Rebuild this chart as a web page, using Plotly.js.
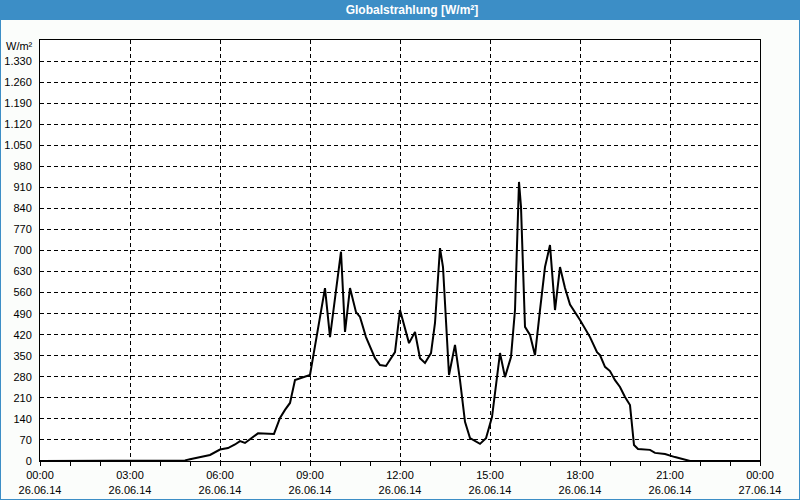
<!DOCTYPE html>
<html>
<head>
<meta charset="utf-8">
<script src="https://cdn.plot.ly/plotly-3.0.1.min.js"></script>
<style>
html,body{margin:0;padding:0;background:#fbfdfb;}
#chart{width:800px;height:500px;}
</style>
</head>
<body>
<div id="chart"></div>
<script>
// Time of day (26.06.14) and global radiation in W/m²
const times = [
  "2014-06-26 00:00","2014-06-26 04:50","2014-06-26 05:00","2014-06-26 05:20","2014-06-26 05:40",
  "2014-06-26 06:00","2014-06-26 06:16","2014-06-26 06:30","2014-06-26 06:40","2014-06-26 06:50",
  "2014-06-26 07:04","2014-06-26 07:16","2014-06-26 07:48","2014-06-26 08:00","2014-06-26 08:10",
  "2014-06-26 08:20","2014-06-26 08:30","2014-06-26 08:46","2014-06-26 09:00","2014-06-26 09:30",
  "2014-06-26 09:40","2014-06-26 10:02","2014-06-26 10:10","2014-06-26 10:20","2014-06-26 10:32",
  "2014-06-26 10:40","2014-06-26 10:52","2014-06-26 11:10","2014-06-26 11:20","2014-06-26 11:32",
  "2014-06-26 11:50","2014-06-26 12:00","2014-06-26 12:18","2014-06-26 12:30","2014-06-26 12:40",
  "2014-06-26 12:50","2014-06-26 13:02","2014-06-26 13:10","2014-06-26 13:20","2014-06-26 13:26",
  "2014-06-26 13:38","2014-06-26 13:50","2014-06-26 14:00","2014-06-26 14:10","2014-06-26 14:20",
  "2014-06-26 14:40","2014-06-26 14:52","2014-06-26 15:04","2014-06-26 15:20","2014-06-26 15:30",
  "2014-06-26 15:42","2014-06-26 15:50","2014-06-26 15:58","2014-06-26 16:02","2014-06-26 16:06",
  "2014-06-26 16:10","2014-06-26 16:20","2014-06-26 16:30","2014-06-26 16:40","2014-06-26 16:50",
  "2014-06-26 17:00","2014-06-26 17:10","2014-06-26 17:20","2014-06-26 17:30","2014-06-26 17:40",
  "2014-06-26 18:00","2014-06-26 18:20","2014-06-26 18:34","2014-06-26 18:40","2014-06-26 18:50",
  "2014-06-26 19:00","2014-06-26 19:10","2014-06-26 19:20","2014-06-26 19:30","2014-06-26 19:40",
  "2014-06-26 19:44","2014-06-26 19:48","2014-06-26 19:56","2014-06-26 20:20","2014-06-26 20:30",
  "2014-06-26 20:50","2014-06-26 21:10","2014-06-26 21:30","2014-06-26 21:40","2014-06-27 00:00"
];
const radiation = [
  0, 2, 6, 13, 20,
  38, 43, 55, 66, 60,
  76, 92, 90, 143, 170,
  193, 269, 279, 286, 575,
  412, 696, 429, 575, 495,
  479, 412, 342, 319, 316,
  362, 502, 392, 429, 342,
  326, 359, 459, 708, 645,
  286, 386, 269, 130, 76,
  57, 76, 146, 359, 279,
  346, 502, 928, 845, 635,
  446, 419, 352, 502, 645,
  718, 502, 645, 575, 520,
  469, 412, 362, 352, 313,
  299, 269, 246, 213, 186,
  126, 53, 40, 37, 27,
  23, 13, 3, 0, 0
];
const yTickVals = [0,70,140,210,280,350,420,490,560,630,700,770,840,910,980,1050,1120,1190,1260,1330];
const chartTitle = "Globalstrahlung [W/m²]";
const unitLabel = "W/m²";

const blue = "#3c8ec6";
const W = 800, H = 500, mL = 40, mR = 40, mT = 40, mB = 39;
const pw = W - mL - mR, ph = H - mT - mB;
const px = v => (v - mL) / pw;            // pixel x -> paper x
const py = v => (H - mB - v) / ph;        // pixel y -> paper y

const trace = {
  x: times, y: radiation, type: "scatter", mode: "lines",
  line: {color: "#000000", width: 2}, hoverinfo: "x+y"
};

const layout = {
  width: W, height: H,
  margin: {l: mL, r: mR, t: mT, b: mB, pad: 0},
  paper_bgcolor: "#fbfdfb", plot_bgcolor: "#ffffff",
  showlegend: false,
  separators: ",.",
  font: {family: "Liberation Sans, Arial, sans-serif", size: 11, color: "#000"},
  title: {
    text: chartTitle, xref: "container", yref: "container",
    x: 0.515, xanchor: "center", y: 1 - 10/H, yanchor: "middle",
    font: {family: "Liberation Sans, Arial, sans-serif", size: 12, color: "#ffffff", weight: "bold"}
  },
  xaxis: {
    type: "date",
    range: ["2014-06-26 00:00", "2014-06-27 00:00"],
    tick0: "2014-06-26 00:00", dtick: 3*3600000,
    tickformat: "%H:%M<br>%d.%m.%y",
    ticks: "outside", ticklen: 4, tickcolor: "#000", tickwidth: 1,
    showgrid: true, gridcolor: "#000", gridwidth: 1, griddash: "4px,3px",
    showline: true, linecolor: "#000", linewidth: 1, mirror: true,
    zeroline: false,
    tickfont: {size: 11, color: "#000"},
    minor: {dtick: 3600000, ticks: "outside", ticklen: 4, tickcolor: "#000", showgrid: false},
    fixedrange: true
  },
  yaxis: {
    range: [0, 1400],
    tickmode: "array", tickvals: yTickVals, tickformat: ",d",
    ticks: "", showgrid: true, gridcolor: "#000", gridwidth: 1, griddash: "4px,3px",
    showline: true, linecolor: "#000", linewidth: 1, mirror: true,
    zeroline: false,
    tickfont: {size: 11, color: "#000"},
    ticklabelstandoff: 5,
    fixedrange: true
  },
  shapes: [
    {type: "rect", xref: "paper", yref: "paper", layer: "below",
     x0: px(0), x1: px(W), y0: py(20), y1: py(0),
     fillcolor: blue, line: {width: 0}},
    {type: "rect", xref: "paper", yref: "paper", layer: "above",
     x0: px(0), x1: px(W), y0: py(H), y1: py(0),
     fillcolor: "rgba(0,0,0,0)", line: {color: blue, width: 2}}
  ],
  annotations: [
    {text: unitLabel, xref: "paper", yref: "paper", x: px(35), y: py(46),
     xanchor: "right", yanchor: "middle", showarrow: false,
     font: {size: 11, color: "#000"}}
  ]
};

Plotly.newPlot("chart", [trace], layout, {displayModeBar: false, staticPlot: true});
</script>
</body>
</html>
